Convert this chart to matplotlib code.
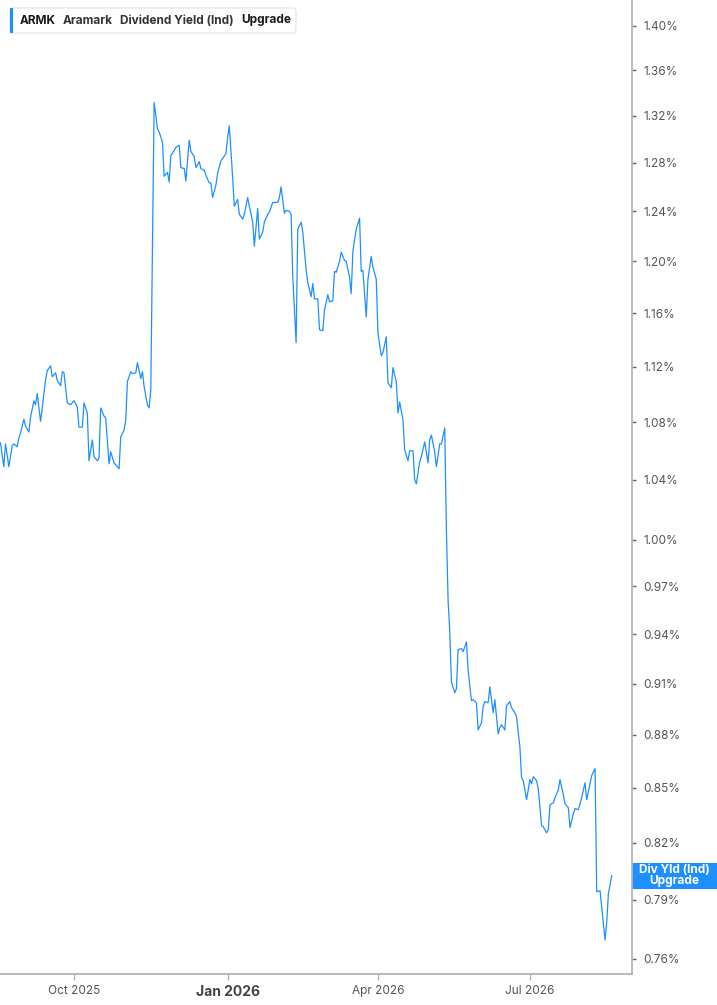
import pandas as pd
import matplotlib.pyplot as plt
from matplotlib.patches import FancyBboxPatch, Rectangle
from matplotlib.ticker import FixedLocator, NullLocator, NullFormatter

plt.rcParams['font.family'] = ['Inter', 'DejaVu Sans']

# ARMK dividend yield (Ind), %
dates = [
    '2025-08-18', '2025-08-20', '2025-08-21', '2025-08-23', '2025-08-25', '2025-08-26', '2025-08-28', '2025-08-29',
    '2025-08-30',
    '2025-09-01', '2025-09-02', '2025-09-04', '2025-09-05', '2025-09-07', '2025-09-08', '2025-09-09', '2025-09-11',
    '2025-09-12', '2025-09-14', '2025-09-15', '2025-09-17', '2025-09-18', '2025-09-20', '2025-09-21', '2025-09-23',
    '2025-09-24', '2025-09-25', '2025-09-27', '2025-09-29',
    '2025-10-01', '2025-10-03', '2025-10-04', '2025-10-06', '2025-10-07', '2025-10-09', '2025-10-10', '2025-10-12',
    '2025-10-13', '2025-10-15', '2025-10-16', '2025-10-17', '2025-10-19', '2025-10-20', '2025-10-22', '2025-10-23',
    '2025-10-25', '2025-10-28', '2025-10-29', '2025-10-31',
    '2025-11-01', '2025-11-02', '2025-11-04', '2025-11-05', '2025-11-07', '2025-11-08', '2025-11-10', '2025-11-11',
    '2025-11-12', '2025-11-14', '2025-11-15', '2025-11-16', '2025-11-18', '2025-11-20', '2025-11-21', '2025-11-23',
    '2025-11-24', '2025-11-26', '2025-11-27', '2025-11-28', '2025-11-30',
    '2025-12-01', '2025-12-03', '2025-12-04', '2025-12-06', '2025-12-07', '2025-12-09', '2025-12-10', '2025-12-12',
    '2025-12-13', '2025-12-15', '2025-12-16', '2025-12-18', '2025-12-19', '2025-12-21', '2025-12-22', '2025-12-23',
    '2025-12-25', '2025-12-26', '2025-12-28', '2025-12-29', '2025-12-31',
    '2026-01-01', '2026-01-02', '2026-01-04', '2026-01-05', '2026-01-07', '2026-01-08', '2026-01-10', '2026-01-11',
    '2026-01-13', '2026-01-14', '2026-01-16', '2026-01-17', '2026-01-19', '2026-01-20', '2026-01-22', '2026-01-23',
    '2026-01-25', '2026-01-26', '2026-01-28', '2026-01-29', '2026-01-31',
    '2026-02-01', '2026-02-02', '2026-02-04', '2026-02-05', '2026-02-07', '2026-02-08', '2026-02-09', '2026-02-11',
    '2026-02-12', '2026-02-14', '2026-02-15', '2026-02-17', '2026-02-18', '2026-02-20', '2026-02-21', '2026-02-22',
    '2026-02-24', '2026-02-25', '2026-02-27', '2026-02-28',
    '2026-03-02', '2026-03-03', '2026-03-05', '2026-03-06', '2026-03-07', '2026-03-09', '2026-03-10', '2026-03-12',
    '2026-03-13', '2026-03-15', '2026-03-16', '2026-03-17', '2026-03-19', '2026-03-21', '2026-03-22', '2026-03-23',
    '2026-03-25', '2026-03-26', '2026-03-28', '2026-03-29', '2026-03-31',
    '2026-04-01', '2026-04-03', '2026-04-04', '2026-04-06', '2026-04-07', '2026-04-09', '2026-04-10', '2026-04-12',
    '2026-04-13', '2026-04-14', '2026-04-16', '2026-04-17', '2026-04-19', '2026-04-20', '2026-04-22', '2026-04-23',
    '2026-04-24', '2026-04-26', '2026-04-27', '2026-04-29',
    '2026-05-01', '2026-05-02', '2026-05-03', '2026-05-05', '2026-05-06', '2026-05-08', '2026-05-09', '2026-05-11',
    '2026-05-12', '2026-05-13', '2026-05-14', '2026-05-15', '2026-05-17', '2026-05-18', '2026-05-19', '2026-05-21',
    '2026-05-22', '2026-05-24', '2026-05-25', '2026-05-27', '2026-05-28', '2026-05-30', '2026-05-31',
    '2026-06-02', '2026-06-03', '2026-06-04', '2026-06-06', '2026-06-07', '2026-06-09', '2026-06-10', '2026-06-12',
    '2026-06-13', '2026-06-14', '2026-06-16', '2026-06-17', '2026-06-19', '2026-06-20', '2026-06-22', '2026-06-23',
    '2026-06-25', '2026-06-26', '2026-06-27', '2026-06-29',
    '2026-07-01', '2026-07-02', '2026-07-03', '2026-07-05', '2026-07-06', '2026-07-08', '2026-07-09', '2026-07-11',
    '2026-07-12', '2026-07-13', '2026-07-15', '2026-07-16', '2026-07-18', '2026-07-19', '2026-07-21', '2026-07-22',
    '2026-07-24', '2026-07-25', '2026-07-27', '2026-07-28', '2026-07-30', '2026-07-31',
    '2026-08-01', '2026-08-03', '2026-08-04', '2026-08-06', '2026-08-07', '2026-08-09', '2026-08-10', '2026-08-12',
    '2026-08-13', '2026-08-15', '2026-08-16', '2026-08-17', '2026-08-19',
]

div_yield = [
    1.0655, 1.049, 1.0648, 1.049, 1.0634, 1.0648, 1.0628, 1.069, 1.0724,
    1.0822, 1.0772, 1.0731, 1.0836, 1.0953, 1.0924, 1.1004, 1.0807, 1.0902, 1.1105,
    1.1171, 1.1207, 1.1127, 1.1156, 1.1098, 1.1062, 1.1164, 1.1156, 1.0938, 1.0924,
    1.0953, 1.0909, 1.0766, 1.0766, 1.0938, 1.0865, 1.0531, 1.0676, 1.0559, 1.0531,
    1.0552, 1.0902, 1.0844, 1.0829, 1.0510, 1.0593, 1.0517, 1.0476, 1.0697, 1.0745,
    1.0815, 1.1091, 1.1164, 1.1149, 1.1156, 1.123, 1.1113, 1.1164, 1.1055, 1.0924,
    1.0902, 1.1033, 1.3316, 1.3087, 1.3061, 1.2974, 1.2688, 1.272, 1.264, 1.2861, 1.2904,
    1.293, 1.2948, 1.276, 1.2752, 1.2648, 1.2991, 1.2896, 1.2852, 1.276, 1.2809,
    1.2752, 1.2736, 1.2696, 1.2632, 1.2632, 1.2512, 1.2616, 1.2712, 1.2817, 1.2835, 1.2878,
    1.3017, 1.3113, 1.268, 1.244, 1.2496, 1.2376, 1.2336, 1.2376, 1.2512, 1.244,
    1.2312, 1.212, 1.2424, 1.2176, 1.2232, 1.2312, 1.2376, 1.2392, 1.2472, 1.2472, 1.2472,
    1.2512, 1.26, 1.2384, 1.2408, 1.24, 1.2376, 1.1882, 1.1378, 1.2256, 1.2312,
    1.2232, 1.1937, 1.1835, 1.1725, 1.1827, 1.1709, 1.1709, 1.1474, 1.1467, 1.1624,
    1.1741, 1.1686, 1.1694, 1.1922, 1.1914, 1.20, 1.2072, 1.2008, 1.20, 1.1875,
    1.1749, 1.208, 1.2256, 1.2344, 1.1922, 1.1929, 1.157, 1.1859, 1.204, 1.1953, 1.1859,
    1.1452, 1.1281, 1.1304, 1.1422, 1.1084, 1.1047, 1.1193, 1.1091, 1.0865, 1.0945,
    1.0815, 1.0607, 1.0531, 1.06, 1.06, 1.04, 1.0373, 1.0524, 1.0559, 1.0662,
    1.0517, 1.0676, 1.071, 1.0593, 1.049, 1.0648, 1.0648, 1.0759, 1.0067, 0.9611,
    0.9419, 0.9112, 0.9047, 0.9071, 0.9306, 0.9312, 0.9294, 0.9353, 0.9182, 0.9,
    0.9006, 0.8988, 0.8829,
    0.8871, 0.8965, 0.8994, 0.8988, 0.9082, 0.8929, 0.9006, 0.8806, 0.8841, 0.8859,
    0.8829, 0.8971, 0.8994, 0.8959, 0.8929, 0.8906, 0.8731, 0.8558, 0.8541, 0.8435,
    0.8547, 0.8523, 0.8563, 0.8541, 0.8495, 0.8293, 0.8287, 0.8254, 0.8271, 0.8407,
    0.8418, 0.8446, 0.8489, 0.8547, 0.8462, 0.8413, 0.8391, 0.8282, 0.8358, 0.8386,
    0.838, 0.8413,
    0.8446, 0.8529, 0.8435, 0.8523, 0.8569, 0.8609, 0.7942, 0.7947, 0.786, 0.7695,
    0.7785, 0.7932, 0.8026,
]

y_ticks = [0.76, 0.79, 0.82, 0.85, 0.88, 0.91, 0.94, 0.97, 1.00, 1.04,
           1.08, 1.12, 1.16, 1.20, 1.24, 1.28, 1.32, 1.36, 1.40]
x_ticks = ['2025-10-01', '2026-01-01', '2026-04-01', '2026-07-01']
x_tick_labels = ['Oct 2025', 'Jan 2026', 'Apr 2026', 'Jul 2026']

header_parts = [('ARMK', 20, '#1a1a1a'),
                ('Aramark', 63, '#333333'),
                ('Dividend Yield (Ind)', 120, '#333333'),
                ('Upgrade', 241, '#1a1a1a')]

BLUE = '#1e8fff'
W, H = 717, 1005

fig = plt.figure(figsize=(W / 100, H / 100), dpi=100)
ax = fig.add_axes([0, 1 - 974 / H, 632 / W, 974 / H])

ax.plot(pd.to_datetime(dates), div_yield, color=BLUE, lw=0.9)

ax.set_yscale('log')
ax.set_ylim(0.7525, 1.424)
ax.set_xlim(pd.Timestamp('2025-08-17 17:00'), pd.Timestamp('2026-08-31 03:00'))

ax.yaxis.tick_right()
ax.yaxis.set_major_locator(FixedLocator(y_ticks))
ax.yaxis.set_minor_locator(NullLocator())
ax.yaxis.set_minor_formatter(NullFormatter())
ax.set_yticklabels([f'{v:.2f}%' for v in y_ticks])

ax.set_xticks(pd.to_datetime(x_ticks))
ax.set_xticklabels(x_tick_labels)

for s in ['left', 'top']:
    ax.spines[s].set_visible(False)
for s in ['right', 'bottom']:
    ax.spines[s].set_color('#b4b4b4')
    ax.spines[s].set_linewidth(1.3)

ax.tick_params(axis='y', direction='out', length=3, width=1, color='#666666',
               labelcolor='#555555', labelsize=8.5, pad=5)
ax.tick_params(axis='x', direction='out', length=4, width=1, color='#b4b4b4',
               labelcolor='#555555', labelsize=8.5, pad=4)
for lbl in ax.get_xticklabels():
    if lbl.get_text() == 'Jan 2026':
        lbl.set_fontweight('bold')
        lbl.set_fontsize(10)
        lbl.set_color('#444444')

# last value tag on the right axis
last = div_yield[-1]
ya = ax.transAxes.inverted().transform(ax.transData.transform((ax.get_xlim()[0], last)))[1]
ax.add_patch(Rectangle((1.0, ya - 13 / 974), 85 / 632, 26 / 974, transform=ax.transAxes,
                       facecolor=BLUE, edgecolor='none', clip_on=False))
ax.text(1.0 + 42.5 / 632, ya, 'Div Yld (Ind)\nUpgrade', transform=ax.transAxes,
        ha='center', va='center', color='white', fontsize=8.5, fontweight='bold',
        linespacing=0.95, clip_on=False)

# header legend box
fig.patches.append(FancyBboxPatch((10 / W, 1 - 33 / H), 286 / W, 25 / H,
                                  boxstyle='round,pad=0,rounding_size=0.004',
                                  transform=fig.transFigure, facecolor='white',
                                  edgecolor='#e2e2e2', lw=0.8))
fig.patches.append(Rectangle((10 / W, 1 - 33 / H), 3 / W, 25 / H,
                             transform=fig.transFigure, facecolor=BLUE, edgecolor='none'))
for txt, xp, col in header_parts:
    fig.text(xp / W, 1 - 20.5 / H, txt, ha='left', va='center', fontsize=8.5,
             fontweight='bold', color=col)

fig.savefig('out.png', dpi=100, facecolor='white')
